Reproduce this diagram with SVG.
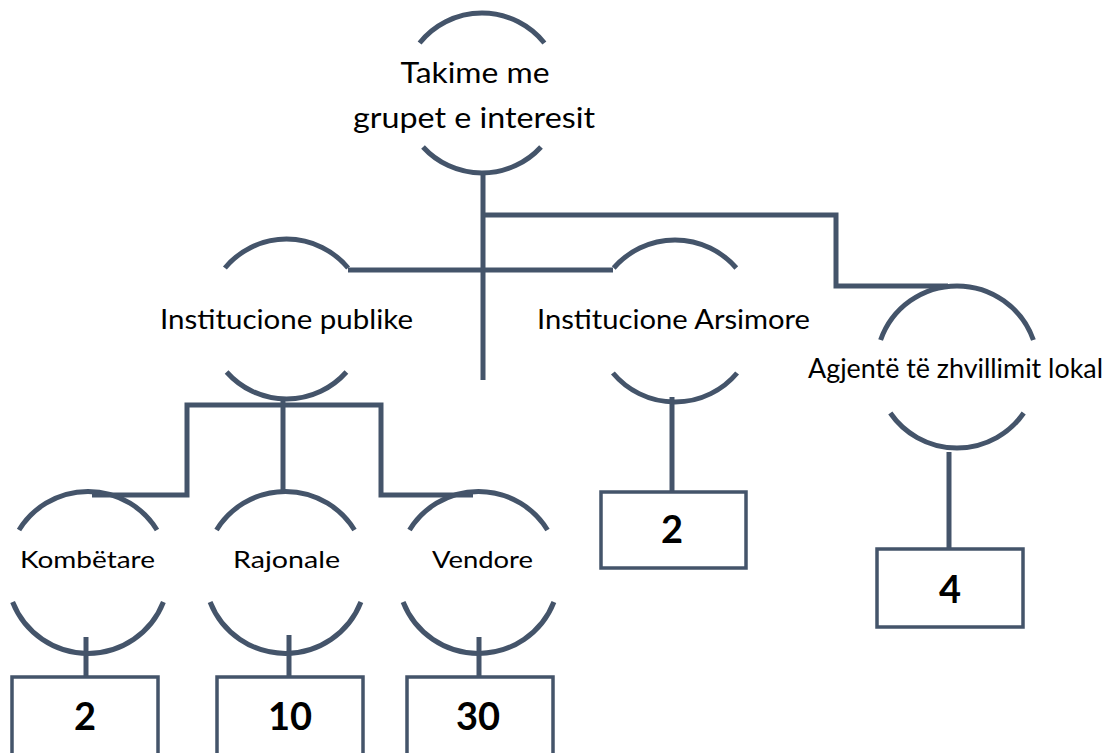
<svg xmlns="http://www.w3.org/2000/svg" width="1116" height="753" viewBox="0 0 1116 753">
<style>
.arc{fill:none;stroke:#44546A;stroke-width:5}
.con{fill:none;stroke:#44546A;stroke-width:5;stroke-linejoin:miter;stroke-linecap:butt}
.box{fill:#FFFFFF;stroke:#44546A;stroke-width:3.5}
.lbl{font-family:Lato,"Liberation Sans",sans-serif;fill:#000000;text-anchor:middle}
.num{font-family:Lato,"Liberation Sans",sans-serif;font-weight:bold;font-size:38px;fill:#000000;text-anchor:middle}
</style>
<rect width="1116" height="753" fill="#FFFFFF"/>
<g id="connectors">
<path class="con" d="M483 173 V380"/>
<path class="con" d="M483 215 H836 V286 H948"/>
<path class="con" d="M348 270 H613"/>
<path class="con" d="M283 398 V491"/>
<path class="con" d="M92 495 H187 V405 H381 V495 H473"/>
<path class="con" d="M86 637 V677"/>
<path class="con" d="M289 635 V677"/>
<path class="con" d="M479 637 V677"/>
<path class="con" d="M672 397 V492"/>
<path class="con" d="M949 452 V549"/>
</g>
<g id="node-takime">
<path class="arc" d="M419.6 43 A80 80 0 0 1 544.4 43"/>
<path class="arc" d="M423 147 A80 80 0 0 0 541 147"/>
<text class="lbl" x="475" y="83" font-size="28" textLength="149" lengthAdjust="spacingAndGlyphs">Takime me</text>
<text class="lbl" x="474" y="128" font-size="28" textLength="242" lengthAdjust="spacingAndGlyphs">grupet e interesit</text>
</g>
<g id="node-publike">
<path class="arc" d="M224.9 268 A80 80 0 0 1 348.1 268"/>
<path class="arc" d="M226.6 372 A80 80 0 0 0 346.4 372"/>
<text class="lbl" x="286.5" y="329" font-size="26" textLength="253" lengthAdjust="spacingAndGlyphs">Institucione publike</text>
</g>
<g id="node-arsimore">
<path class="arc" d="M613.7 268 A81 81 0 0 1 736.3 268"/>
<path class="arc" d="M612.9 373 A81 81 0 0 0 737.1 373"/>
<text class="lbl" x="673.5" y="329" font-size="26" textLength="273" lengthAdjust="spacingAndGlyphs">Institucione Arsimore</text>
</g>
<g id="node-agjente">
<path class="arc" d="M880.6 340 A81 81 0 0 1 1033.4 340"/>
<path class="arc" d="M890.3 413 A81 81 0 0 0 1023.7 413"/>
<text class="lbl" x="955.5" y="378" font-size="26" textLength="295" lengthAdjust="spacingAndGlyphs">Agjentë të zhvillimit lokal</text>
</g>
<g id="node-kombetare">
<path class="arc" d="M19 530 A81 81 0 0 1 157 530"/>
<path class="arc" d="M12.6 602 A81 81 0 0 0 163.4 602"/>
<text class="lbl" x="87.5" y="568" font-size="23" textLength="135" lengthAdjust="spacingAndGlyphs">Kombëtare</text>
</g>
<g id="node-rajonale">
<path class="arc" d="M216.5 530 A81 81 0 0 1 354.5 530"/>
<path class="arc" d="M210.1 602 A81 81 0 0 0 360.9 602"/>
<text class="lbl" x="286.5" y="568" font-size="23" textLength="107" lengthAdjust="spacingAndGlyphs">Rajonale</text>
</g>
<g id="node-vendore">
<path class="arc" d="M409.5 530 A81 81 0 0 1 547.5 530"/>
<path class="arc" d="M403.1 602 A81 81 0 0 0 553.9 602"/>
<text class="lbl" x="482.5" y="568" font-size="23" textLength="101" lengthAdjust="spacingAndGlyphs">Vendore</text>
</g>
<g id="box-kombetare">
<rect class="box" x="12" y="677" width="146" height="90"/>
<text class="num" x="85" y="730">2</text>
</g>
<g id="box-rajonale">
<rect class="box" x="217" y="677" width="146" height="90"/>
<text class="num" x="290" y="730">10</text>
</g>
<g id="box-vendore">
<rect class="box" x="407" y="677" width="146" height="90"/>
<text class="num" x="478" y="730">30</text>
</g>
<g id="box-arsimore">
<rect class="box" x="601" y="492" width="145" height="76"/>
<text class="num" x="672" y="543">2</text>
</g>
<g id="box-agjente">
<rect class="box" x="877" y="549" width="146" height="78"/>
<text class="num" x="950" y="603">4</text>
</g>
</svg>
